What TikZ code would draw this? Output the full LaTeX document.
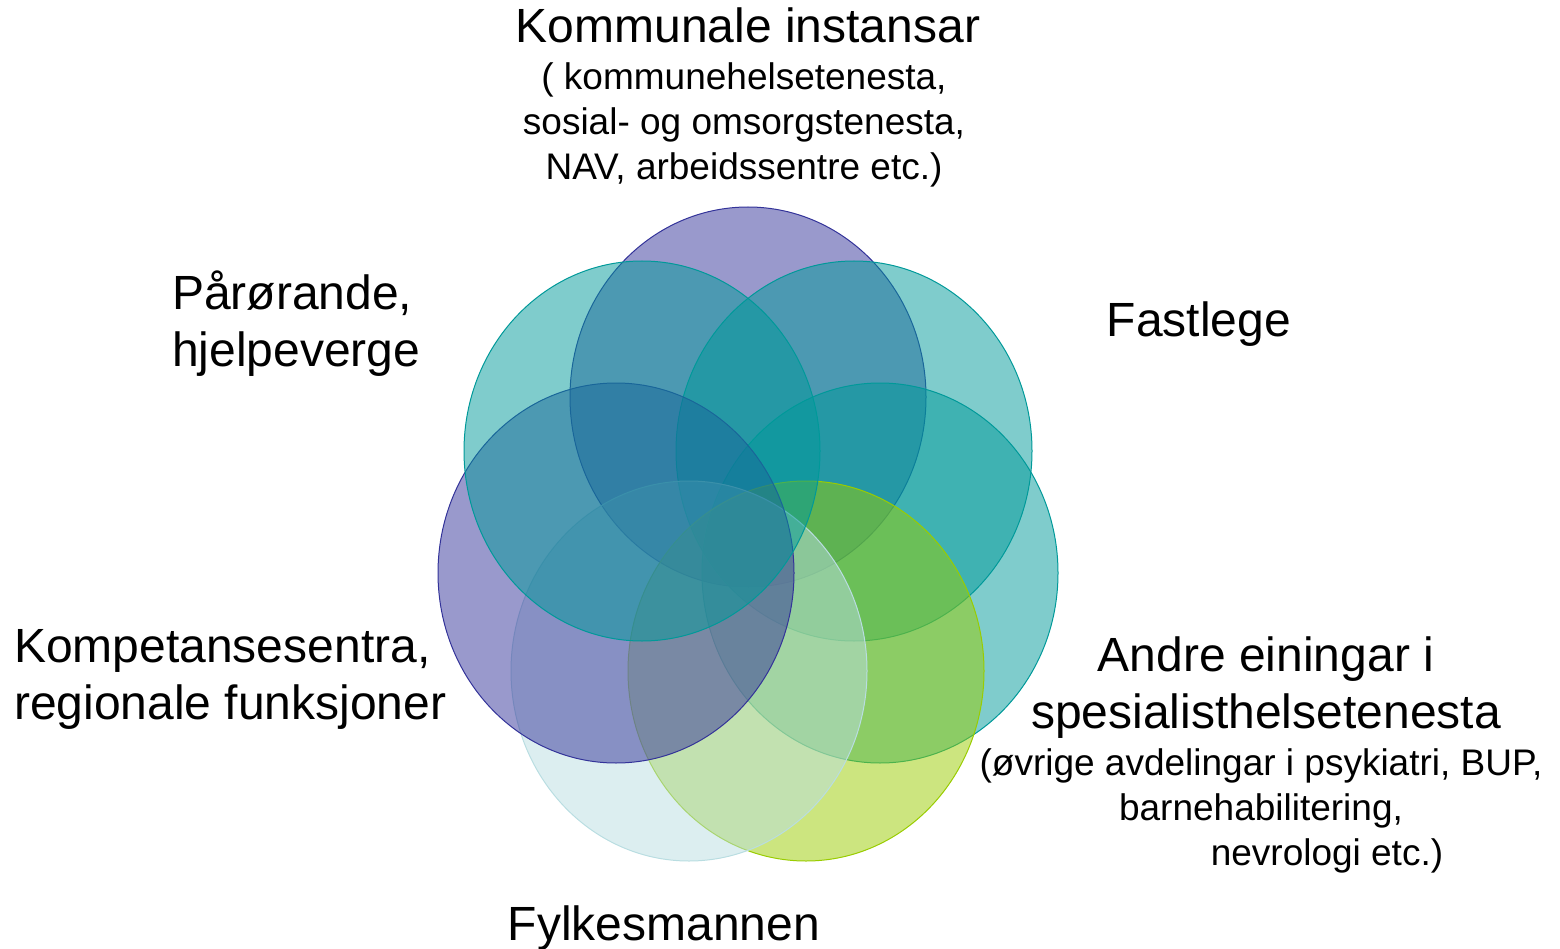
\documentclass[tikz,border=0pt]{standalone}
\usepackage{fontspec}
\setmainfont{Liberation Sans}
\usepackage{tikz}
\usepackage{xcolor}
\definecolor{ringpurple}{RGB}{51,51,153}
\definecolor{ringteal}{RGB}{0,153,153}
\definecolor{ringlight}{RGB}{185,221,225}
\definecolor{ringgreen}{RGB}{153,204,0}

\begin{document}
\begin{tikzpicture}[x=1pt,y=-1pt,
  ring/.style={fill opacity=0.5, line width=1pt},
  bigtext/.style={font=\fontsize{48}{57}\selectfont, inner sep=0pt},
  smalltext/.style={font=\fontsize{37}{45}\selectfont, inner sep=0pt}]
\useasboundingbox (0,0) rectangle (1560,949);
\clip (0,0) rectangle (1560,949);

% the seven rings, back to front
\filldraw[ring, fill=ringpurple, draw=ringpurple] (748,397) ellipse (178 and 190);
\filldraw[ring, fill=ringteal, draw=ringteal] (854,451) ellipse (178 and 190);
\filldraw[ring, fill=ringteal, draw=ringteal] (880,573) ellipse (178 and 190);
\filldraw[ring, fill=ringgreen, draw=ringgreen] (806,671) ellipse (178 and 190);
\filldraw[ring, fill=ringlight, draw=ringlight] (689,671) ellipse (178 and 190);
\filldraw[ring, fill=ringpurple, draw=ringpurple] (616,573) ellipse (178 and 190);
\filldraw[ring, fill=ringteal, draw=ringteal] (642,451) ellipse (178 and 190);

% labels
\node[bigtext, anchor=north] (kommunale) at (748,8) {Kommunale instansar};
\node[smalltext, anchor=north, align=center] (kommunalesub) at (744,62)
  {( kommunehelsetenesta,\\sosial- og omsorgstenesta,\\NAV, arbeidssentre etc.)};
\node[bigtext, anchor=north] (fastlege) at (1199,302) {Fastlege};
\node[bigtext, anchor=north west, align=left] (parorande) at (172,271) {Pårørande,\\hjelpeverge};
\node[bigtext, anchor=north west, align=left] (kompetanse) at (14,629) {Kompetansesentra,\\regionale funksjoner};
\node[bigtext, anchor=north, align=center] (andre) at (1266,637) {Andre einingar i\\spesialisthelsetenesta};
\node[smalltext, anchor=north, align=center] (andresub) at (1261,748)
  {(øvrige avdelingar i psykiatri, BUP,\\barnehabilitering,\\\hspace*{132pt}nevrologi etc.)};
\node[bigtext, anchor=north] (fylkesmannen) at (664,906) {Fylkesmannen};
\end{tikzpicture}
\end{document}
